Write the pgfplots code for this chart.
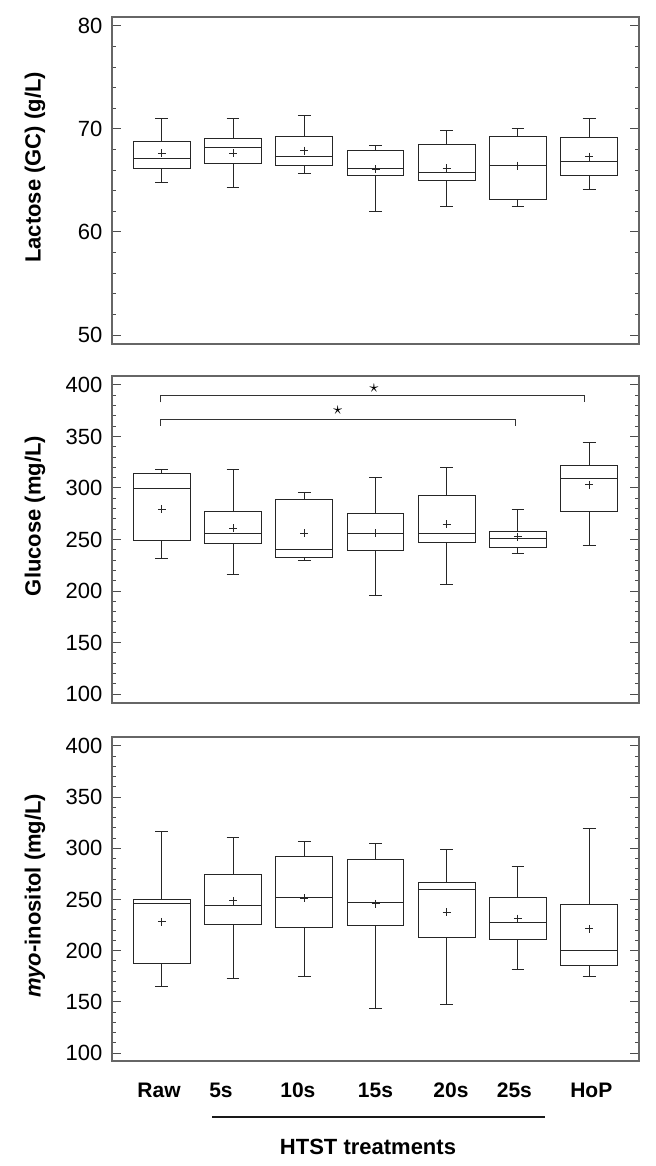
\documentclass[border=0pt]{standalone}
\usepackage{fontspec}
\setmainfont{Liberation Sans}
\usepackage{pgfplots}
\pgfplotsset{compat=1.18}
\usepgfplotslibrary{statistics}

\pgfplotsset{
  panel/.style={
    scale only axis, width=263.5pt, height=163.5pt, anchor=south west,
    xmin=0.3, xmax=7.7, xtick=\empty,
    axis line style={black!60, line width=0.6pt},
    tick align=inside, ytick pos=both,
    minor y tick num=4,
    major tick length=4.5pt, minor tick length=2pt,
    every tick/.style={black!70, line width=0.5pt},
    tick label style={font=\fontsize{11}{13}\selectfont},
    yticklabel style={xshift=-1.3pt},
    /pgf/number format/assume math mode=true,
    ylabel style={font=\fontsize{11}{13}\bfseries\selectfont, anchor=center},
    clip=false,
    boxplot/draw direction=y,
    boxplot/box extend=0.8,
    boxplot/whisker extend=0.18,
    boxplot/every average/.style={/tikz/mark=+, /tikz/mark size=2pt, /tikz/mark options={solid, line width=0.5pt}},
  },
  bx/.style={black!85, line width=0.5pt, solid, mark=+},
}
\newcommand{\bp}[7]{\addplot[bx, boxplot prepared={draw position=#1, lower whisker=#2, lower quartile=#3, median=#4, upper quartile=#5, upper whisker=#6, average=#7}] coordinates {};}

\begin{document}
\begin{tikzpicture}
\useasboundingbox (0,0) rectangle (328pt,583pt);

% Lactose
\begin{axis}[panel, at={(56pt,411pt)}, ymin=49.13, ymax=80.87, ytick={50,60,70,80},
  ylabel={Lactose (GC) (g/L)}, ylabel style={at={(axis description cs:-0.146,0.54)}}]
\bp{1}{64.85}{66.15}{67.12}{68.83}{70.97}{67.64}
\bp{2}{64.34}{66.67}{68.25}{69.06}{70.97}{67.64}
\bp{3}{65.66}{66.41}{67.31}{69.29}{71.30}{67.90}
\bp{4}{62.00}{65.47}{66.15}{67.90}{68.35}{66.08}
\bp{5}{62.52}{64.95}{65.73}{68.51}{69.81}{66.18}
\bp{6}{62.52}{63.20}{66.47}{69.29}{70.06}{66.44}
\bp{7}{64.17}{65.47}{66.86}{69.13}{70.97}{67.31}
\end{axis}

% Glucose
\begin{axis}[panel, at={(56pt,231.5pt)}, ymin=91.3, ymax=408.7, ytick={100,150,...,400},
  ylabel={Glucose (mg/L)}, ylabel style={at={(axis description cs:-0.146,0.572)}}]
\bp{1}{231.1}{249.3}{299.1}{314.1}{317.7}{279.3}
\bp{2}{216.1}{246.1}{255.8}{277.3}{317.7}{261.0}
\bp{3}{229.2}{232.7}{240.5}{288.7}{295.9}{256.2}
\bp{4}{196.0}{238.9}{255.8}{275.7}{310.5}{256.2}
\bp{5}{206.7}{247.4}{255.8}{292.3}{319.6}{264.6}
\bp{6}{236.6}{242.5}{251.0}{257.5}{279.3}{252.6}
\bp{7}{244.4}{277.3}{309.2}{321.9}{343.7}{303.0}
\addplot[black!80, line width=0.5pt, mark=none] coordinates {(0.98,383.2) (0.98,389.6) (6.94,389.6) (6.94,383.2)};
\addplot[black!80, line width=0.5pt, mark=none] coordinates {(0.98,360.5) (0.98,366.7) (5.96,366.7) (5.96,360.5)};
\node[font=\fontsize{9}{10}\selectfont] at (axis cs:3.98,397.2) {$\star$};
\node[font=\fontsize{9}{10}\selectfont] at (axis cs:3.47,375.4) {$\star$};
\end{axis}

% myo-inositol
\begin{axis}[panel, at={(56pt,52.5pt)}, height=162pt, ymin=92.2, ymax=408.8, ytick={100,150,...,400},
  ylabel={\textit{myo}-inositol (mg/L)}, ylabel style={at={(axis description cs:-0.146,0.51)}},
  xtick={0.96,1.83,2.91,4.0,5.06,5.95,7.03},
  xticklabels={Raw,5s,10s,15s,20s,25s,HoP},
  xtick style={draw=none},
  xticklabel style={font=\fontsize{10.5}{12}\bfseries\selectfont, anchor=center, yshift=-14.5pt}]
\bp{1}{165.0}{187.8}{245.8}{250.0}{316.4}{228.2}
\bp{2}{173.2}{225.6}{244.4}{274.4}{310.5}{248.7}
\bp{3}{174.8}{223.0}{251.9}{292.0}{306.9}{251.3}
\bp{4}{143.2}{224.6}{247.4}{289.0}{304.3}{245.8}
\bp{5}{147.5}{213.2}{259.4}{266.6}{299.1}{237.6}
\bp{6}{181.3}{210.6}{227.5}{251.6}{282.5}{231.4}
\bp{7}{174.8}{185.2}{200.2}{244.8}{319.3}{221.3}
\end{axis}

\draw[black!90, line width=1pt] (106pt,24.5pt) -- (272.5pt,24.5pt);
\node[font=\fontsize{11}{13}\bfseries\selectfont] at (184pt,9.5pt) {HTST treatments};
\end{tikzpicture}
\end{document}
